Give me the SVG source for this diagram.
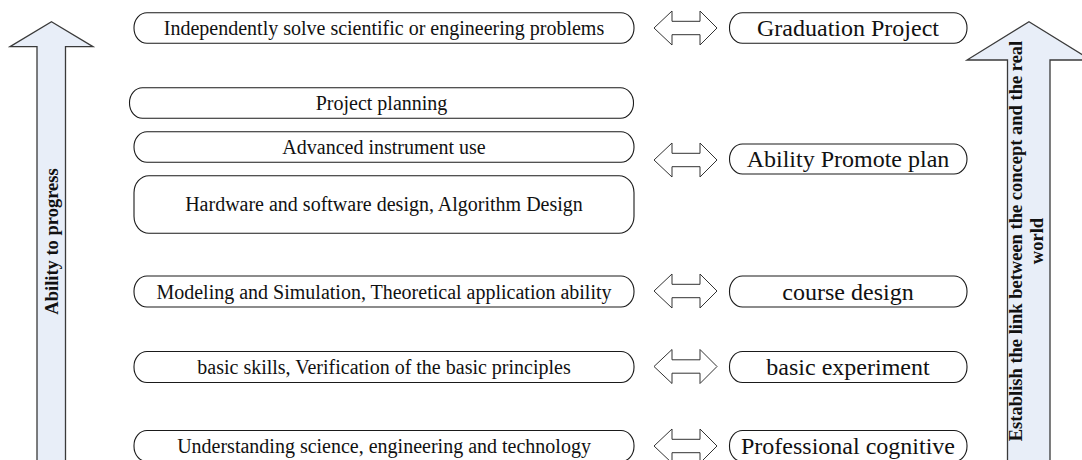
<svg xmlns="http://www.w3.org/2000/svg" xmlns:xlink="http://www.w3.org/1999/xlink" width="1082" height="460" viewBox="0 0 1082 460">
<style>
.box{fill:#fff;stroke:#1a1a1a;stroke-width:1.1}
.big{fill:#e8eef8;stroke:#3a3a3a;stroke-width:1.3}
.dbl{fill:#fff;stroke:#333;stroke-width:1}
.lt{font-family:"Liberation Serif","Times New Roman",serif;font-size:20px;fill:#111;text-anchor:middle}
.rt{font-family:"Liberation Serif","Times New Roman",serif;font-size:24px;fill:#111;text-anchor:middle}
.vt{font-family:"Liberation Serif","Times New Roman",serif;font-size:18.5px;font-weight:bold;fill:#111;text-anchor:middle}
</style>
<defs>
<path id="dblarrow" class="dbl" d="M0,0 L18,-17 L18,-6.7 L46,-6.7 L46,-17 L63,0 L46,17 L46,6.7 L18,6.7 L18,17 Z"/>
</defs>
<rect width="1082" height="460" fill="#fff"/>

<g id="left-arrow">
<path class="big" d="M51.5,21.7 L93,46.7 L65.5,46.7 L65.5,462 L37,462 L37,46.7 L10,46.7 Z"/>
<text class="vt" transform="translate(58,241.5) rotate(-90)">Ability to progress</text>
</g>

<g id="right-arrow">
<path class="big" d="M1029,21.7 L1091,60 L1050,60 L1050,462 L1007.5,462 L1007.5,60 L967,60 Z"/>
<text class="vt" transform="translate(1022,241) rotate(-90)">Establish the link between the concept and the real</text>
<text class="vt" transform="translate(1043,241) rotate(-90)">world</text>
</g>

<g id="n-independently">
<rect class="box" x="134" y="12.7" width="500" height="30.6" rx="13" ry="15"/>
<text class="lt" x="384" y="35">Independently solve scientific or engineering problems</text>
</g>
<g id="n-project-planning">
<rect class="box" x="129.5" y="87.7" width="504" height="30.6" rx="13" ry="15"/>
<text class="lt" x="381.5" y="110">Project planning</text>
</g>
<g id="n-advanced">
<rect class="box" x="134" y="131.7" width="500" height="30.6" rx="13" ry="15"/>
<text class="lt" x="384" y="154">Advanced instrument use</text>
</g>
<g id="n-hardware">
<rect class="box" x="134" y="175.7" width="500" height="57.6" rx="15" ry="17"/>
<text class="lt" x="384" y="211">Hardware and software design, Algorithm Design</text>
</g>
<g id="n-modeling">
<rect class="box" x="134" y="276" width="500" height="31" rx="13" ry="15"/>
<text class="lt" x="384" y="298.5">Modeling and Simulation, Theoretical application ability</text>
</g>
<g id="n-basic-skills">
<rect class="box" x="134" y="351.5" width="500" height="31" rx="13" ry="15"/>
<text class="lt" x="384" y="374">basic skills, Verification of the basic principles</text>
</g>
<g id="n-understanding">
<rect class="box" x="134" y="430.5" width="500" height="31" rx="13" ry="15"/>
<text class="lt" x="384" y="453">Understanding science, engineering and technology</text>
</g>

<g id="n-graduation">
<rect class="box" x="729.5" y="12.7" width="237.5" height="30.6" rx="13" ry="15"/>
<text class="rt" x="848" y="36">Graduation Project</text>
</g>
<g id="n-ability-promote">
<rect class="box" x="729.5" y="144" width="237.5" height="30" rx="13" ry="15"/>
<text class="rt" x="848" y="167">Ability Promote plan</text>
</g>
<g id="n-course-design">
<rect class="box" x="729.5" y="276" width="237.5" height="31" rx="13" ry="15"/>
<text class="rt" x="848" y="299.5">course design</text>
</g>
<g id="n-basic-experiment">
<rect class="box" x="729.5" y="351.5" width="237.5" height="31" rx="13" ry="15"/>
<text class="rt" x="848" y="374.5">basic experiment</text>
</g>
<g id="n-professional">
<rect class="box" x="729.5" y="430.5" width="237.5" height="31" rx="13" ry="15"/>
<text class="rt" x="848" y="454">Professional cognitive</text>
</g>

<g id="connectors">
<use xlink:href="#dblarrow" x="654" y="28"/>
<use xlink:href="#dblarrow" x="654" y="160"/>
<use xlink:href="#dblarrow" x="654" y="291"/>
<use xlink:href="#dblarrow" x="654" y="366.5"/>
<use xlink:href="#dblarrow" x="654" y="446"/>
</g>
</svg>
